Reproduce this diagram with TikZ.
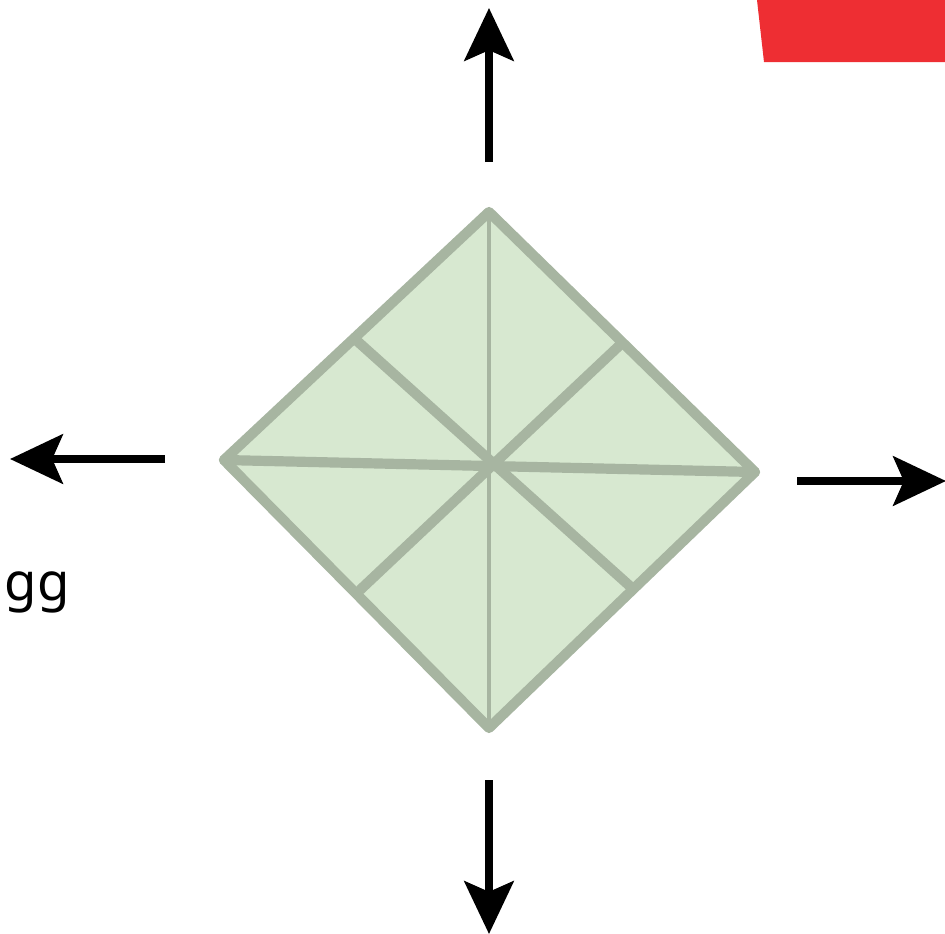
\documentclass[tikz,border=0pt]{standalone}
\usepackage{fontspec}
\setmainfont{Noto Sans}
\usepackage{xcolor}
\usepackage{tikz}
\usetikzlibrary{arrows.meta,positioning,calc}
\definecolor{leaf}{HTML}{D7E8D0}
\definecolor{vein}{HTML}{A7B5A1}
\definecolor{flag}{HTML}{EE2E33}

\begin{document}
\begin{tikzpicture}[
    x=0.1mm, y=-0.1mm,
    edge/.style={draw=vein, line width=2.9pt, line cap=round, line join=round},
    thinedge/.style={draw=vein, line width=1.1pt},
    pointer/.style={draw=black, line width=2.3pt, -{Stealth[length=15pt, width=14pt, inset=3pt]}},
    label/.style={font=\fontsize{15}{18}\selectfont, inner sep=0pt, anchor=base west}
]
    \useasboundingbox (0,0) rectangle (945,934);

    % Red corner
    \fill[flag] (757,0) -- (945,0) -- (945,62) -- (764,62) -- cycle;

    % Diamond corners
    \coordinate (top) at (489,212);
    \coordinate (right) at (755,472);
    \coordinate (bottom) at (489,728);
    \coordinate (left) at (224,460);
    \coordinate (mid) at (489,466);

    % Edge midpoints
    \coordinate (ul) at (356,340);
    \coordinate (ur) at (620,345);
    \coordinate (ll) at (360,590);
    \coordinate (lr) at (632,588);

    % Diamond
    \fill[leaf] (top) -- (right) -- (bottom) -- (left) -- cycle;
    \draw[thinedge] (top) -- (bottom);
    \draw[edge] (top) -- (right) -- (bottom) -- (left) -- cycle;
    \draw[edge] (left) -- (mid) -- (right);
    \draw[edge] (ul) -- (lr);
    \draw[edge] (ur) -- (ll);

    % Arrows
    \coordinate (upA) at (489,162);   \coordinate (upB) at (489,8);
    \coordinate (leftA) at (165,459); \coordinate (leftB) at (10,459);
    \coordinate (rightA) at (797,481);\coordinate (rightB) at (946,481);
    \coordinate (downA) at (489,780); \coordinate (downB) at (489,934);
    \draw[pointer] (upA) -- (upB);
    \draw[pointer] (leftA) -- (leftB);
    \draw[pointer] (rightA) -- (rightB);
    \draw[pointer] (downA) -- (downB);

    % Text
    \node[label] (gg) at (4,600) {gg};
\end{tikzpicture}
\end{document}
